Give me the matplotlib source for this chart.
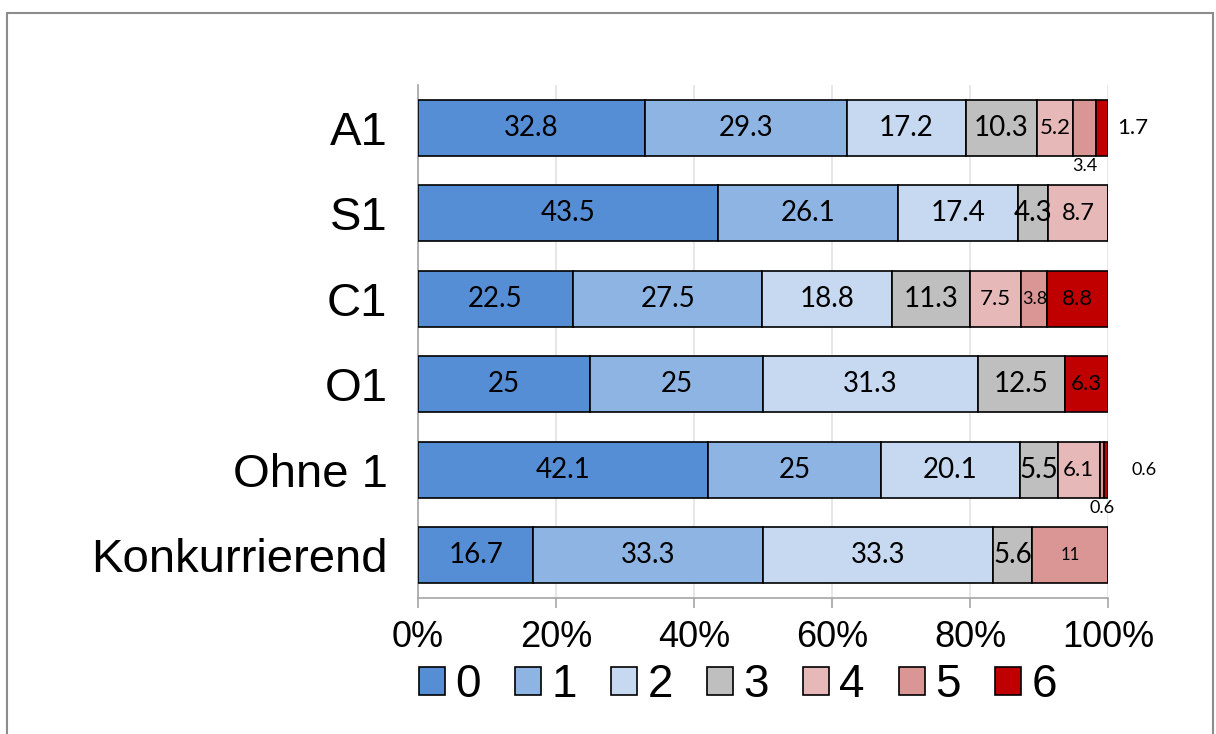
import matplotlib
matplotlib.use("Agg")
import matplotlib.pyplot as plt
from matplotlib.patches import Rectangle, Patch
import numpy as np

categories = ["A1", "S1", "C1", "O1", "Ohne 1", "Konkurrierend"]
series_names = ["0", "1", "2", "3", "4", "5", "6"]
v0 = [32.8, 43.5, 22.5, 25.0, 42.1, 16.7]
v1 = [29.3, 26.1, 27.5, 25.0, 25.0, 33.3]
v2 = [17.2, 17.4, 18.8, 31.3, 20.1, 33.3]
v3 = [10.3, 4.3, 11.3, 12.5, 5.5, 5.6]
v4 = [5.2, 8.7, 7.5, 0.0, 6.1, 0.0]
v5 = [3.4, 0.0, 3.8, 0.0, 0.6, 11.0]
v6 = [1.7, 0.0, 8.8, 6.3, 0.6, 0.0]
label_texts = [
    ["32.8", "43.5", "22.5", "25", "42.1", "16.7"],
    ["29.3", "26.1", "27.5", "25", "25", "33.3"],
    ["17.2", "17.4", "18.8", "31.3", "20.1", "33.3"],
    ["10.3", "4.3", "11.3", "12.5", "5.5", "5.6"],
    ["5.2", "8.7", "7.5", "", "6.1", ""],
    ["3.4", "", "3.8", "", "0.6", "11"],
    ["1.7", "", "8.8", "6.3", "0.6", ""],
]
tick_labels = ["0%", "20%", "40%", "60%", "80%", "100%"]

colors = ["#558ED5", "#8EB4E3", "#C6D9F1", "#BFBFBF", "#E6B9B8", "#D99694", "#C00000"]

# style overrides for individual data labels
size_override = {
    (4, 0): 16, (5, 0): 13, (6, 0): 16,
    (4, 1): 17, (3, 1): 20,
    (4, 2): 16, (5, 2): 13, (6, 2): 16,
    (6, 3): 16,
    (4, 4): 16, (5, 4): 13, (6, 4): 13,
    (5, 5): 12,
}
place_override = {(5, 0): ("below", 0), (6, 0): ("right", 1.3),
                  (5, 4): ("below", 0), (6, 4): ("right", 3.4)}

series = [v0, v1, v2, v3, v4, v5, v6]
data = np.array(series, dtype=float)
totals = data.sum(axis=0)
pct = data / totals * 100.0

W, H = 1216, 734
fig = plt.figure(figsize=(W / 100, H / 100), dpi=100)
ax = fig.add_axes([418 / W, 1 - 598 / H, 690 / W, 513 / H])

# chart-area frame
fig.patches.append(Rectangle((7 / W, -0.05), (1213 - 7) / W, 1.05 - 13 / H,
                             transform=fig.transFigure, fill=False,
                             edgecolor="#8C8C8C", lw=1.5, zorder=0))

y = np.arange(len(categories))
left = np.zeros(len(categories))
bar_h = 0.66
for i, name in enumerate(series_names):
    ax.barh(y, pct[i], left=left, height=bar_h, color=colors[i],
            edgecolor="black", linewidth=1.2, label=name, zorder=3)
    for j in range(len(categories)):
        txt = label_texts[i][j]
        if not txt:
            continue
        fs = size_override.get((i, j), 20)
        pl, off = place_override.get((i, j), ("center", 0))
        cx = left[j] + pct[i][j] / 2
        if pl == "center":
            ax.text(cx, y[j], txt, ha="center", va="center", fontsize=fs,
                    family="Lato", zorder=5)
        elif pl == "below":
            ax.text(cx, y[j] + bar_h / 2 + 0.02, txt, ha="center", va="top",
                    fontsize=fs, family="Lato", zorder=5)
        else:
            ax.text(left[j] + pct[i][j] + off, y[j], txt, ha="left",
                    va="center", fontsize=fs, family="Lato", zorder=5)
    left = left + pct[i]

ax.set_xlim(0, 100)
ax.set_ylim(len(categories) - 0.5, -0.5)
ax.set_xticks(np.linspace(0, 100, len(tick_labels)))
ax.set_xticklabels(tick_labels, family="Liberation Sans", fontsize=26)
ax.set_yticks(y)
ax.set_yticklabels(categories, family="Liberation Sans", fontsize=34)
ax.tick_params(axis="y", length=0, pad=22)
ax.tick_params(axis="x", length=7.5, width=1.2, color="#A6A6A6", direction="out", pad=8)
ax.xaxis.grid(True, color="#E3E3E3", lw=1.2, zorder=0)
ax.set_axisbelow(True)
for s in ["top", "right"]:
    ax.spines[s].set_visible(False)
ax.spines["left"].set_color("#A6A6A6")
ax.spines["bottom"].set_color("#A6A6A6")
ax.spines["left"].set_linewidth(1.2)
ax.spines["bottom"].set_linewidth(1.2)

handles = [Patch(facecolor=colors[i], edgecolor="black", lw=1.2) for i in range(len(series_names))]
fig.legend(handles, series_names, loc="center", bbox_to_anchor=(738 / W, 1 - 685 / H),
           ncol=7, frameon=False, prop={"family": "Liberation Sans", "size": 33},
           handlelength=0.57, handleheight=0.55, handletextpad=0.22,
           columnspacing=0.75, borderpad=0, borderaxespad=0)

fig.savefig("out.png", dpi=100)
